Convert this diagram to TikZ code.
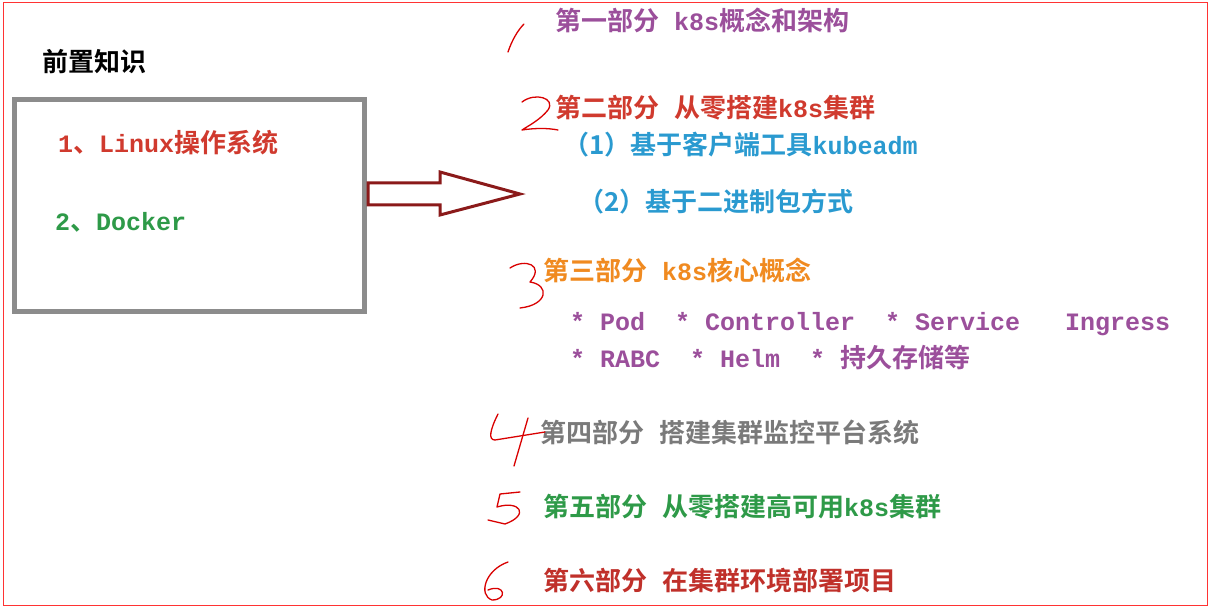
\documentclass[tikz,border=0pt]{standalone}
\usepackage{fontspec}
\setmainfont{Noto Sans CJK SC}[BoldFont={Noto Sans CJK SC Bold}]
\newfontfamily\lm{Liberation Mono}[BoldFont={Liberation Mono Bold}]
\newcommand{\La}[1]{{\lm\fontsize{25}{26}\selectfont #1}}
\begin{document}
\begin{tikzpicture}[x=1pt,y=-1pt,
 t/.style={anchor=west,inner sep=0pt,font=\fontsize{26}{28}\selectfont\bfseries},
 hand/.style={red!85!black,line width=1.3pt,line cap=round,line join=round}]
\definecolor{pur}{HTML}{9B4F9B}\definecolor{rd}{HTML}{D03A2E}\definecolor{bl}{HTML}{2A9AD0}
\definecolor{org}{HTML}{F08A20}\definecolor{gr}{HTML}{2E9A48}\definecolor{gy}{HTML}{7A7A7A}
\definecolor{drd}{HTML}{C0302A}\definecolor{arr}{HTML}{8B1A1A}
\useasboundingbox (0,0) rectangle (1210,609);
\fill[white] (0,0) rectangle (1210,609);
\draw[red!80,line width=1pt] (3,3) rectangle (1207,605);
\node[draw=gray!90,line width=5pt,minimum width=350,minimum height=212,anchor=north west] (box) at (12,97) {};
\node[t,font=\fontsize{26}{28}\selectfont\bfseries] (pre) at (42,62) {前置知识};
\node[t,rd] (l1) at (58,143) {\La{1}、\La{Linux}操作系统};
\node[t,gr] (l2) at (55,222) {\La{2}、\La{Docker}};
\draw[arr,line width=3pt,line join=miter] (368,183) -- (440,183) -- (440,172) -- (520,194) -- (440,215) -- (440,205) -- (368,205) -- cycle;
\node[t,pur] (p1) at (555,20) {第一部分\La{~k8s}概念和架构};
\node[t,rd] (p2) at (555,108) {第二部分\La{~}从零搭建\La{k8s}集群};
\node[t,bl] (p2a) at (563,145) {（1）基于客户端工具\La{kubeadm}};
\node[t,bl] (p2b) at (578,202) {（2）基于二进制包方式};
\node[t,org] (p3) at (543,270) {第三部分\La{~k8s}核心概念};
\node[t,pur] (p3a) at (570,324) {\La{*~Pod~~*~Controller~~*~Service~~~Ingress}};
\node[t,pur] (p3b) at (570,358) {\La{*~RABC~~*~Helm~~*~}持久存储等};
\node[t,gy] (p4) at (540,432) {第四部分\La{~}搭建集群监控平台系统};
\node[t,gr] (p5) at (543,507) {第五部分\La{~}从零搭建高可用\La{k8s}集群};
\node[t,drd] (p6) at (543,581) {第六部分\La{~}在集群环境部署项目};
\draw[hand] (508,52) .. controls (512,40) and (518,30) .. (524,24);
\draw[hand] (522,102) .. controls (535,92) and (556,98) .. (548,110) .. controls (540,120) and (528,126) .. (522,130) .. controls (535,128) and (548,128) .. (558,130);
\draw[hand] (510,268) .. controls (525,258) and (545,265) .. (530,282) .. controls (550,285) and (548,305) .. (520,308);
\draw[hand] (498,414) .. controls (490,430) and (488,440) .. (495,440) -- (545,432);
\draw[hand] (528,418) -- (514,466);
\draw[hand] (520,492) -- (500,494) -- (497,507) .. controls (520,500) and (530,515) .. (505,524) -- (488,520);
\draw[hand] (508,562) .. controls (485,570) and (478,595) .. (492,600) .. controls (508,600) and (505,583) .. (488,590);
\end{tikzpicture}
\end{document}
